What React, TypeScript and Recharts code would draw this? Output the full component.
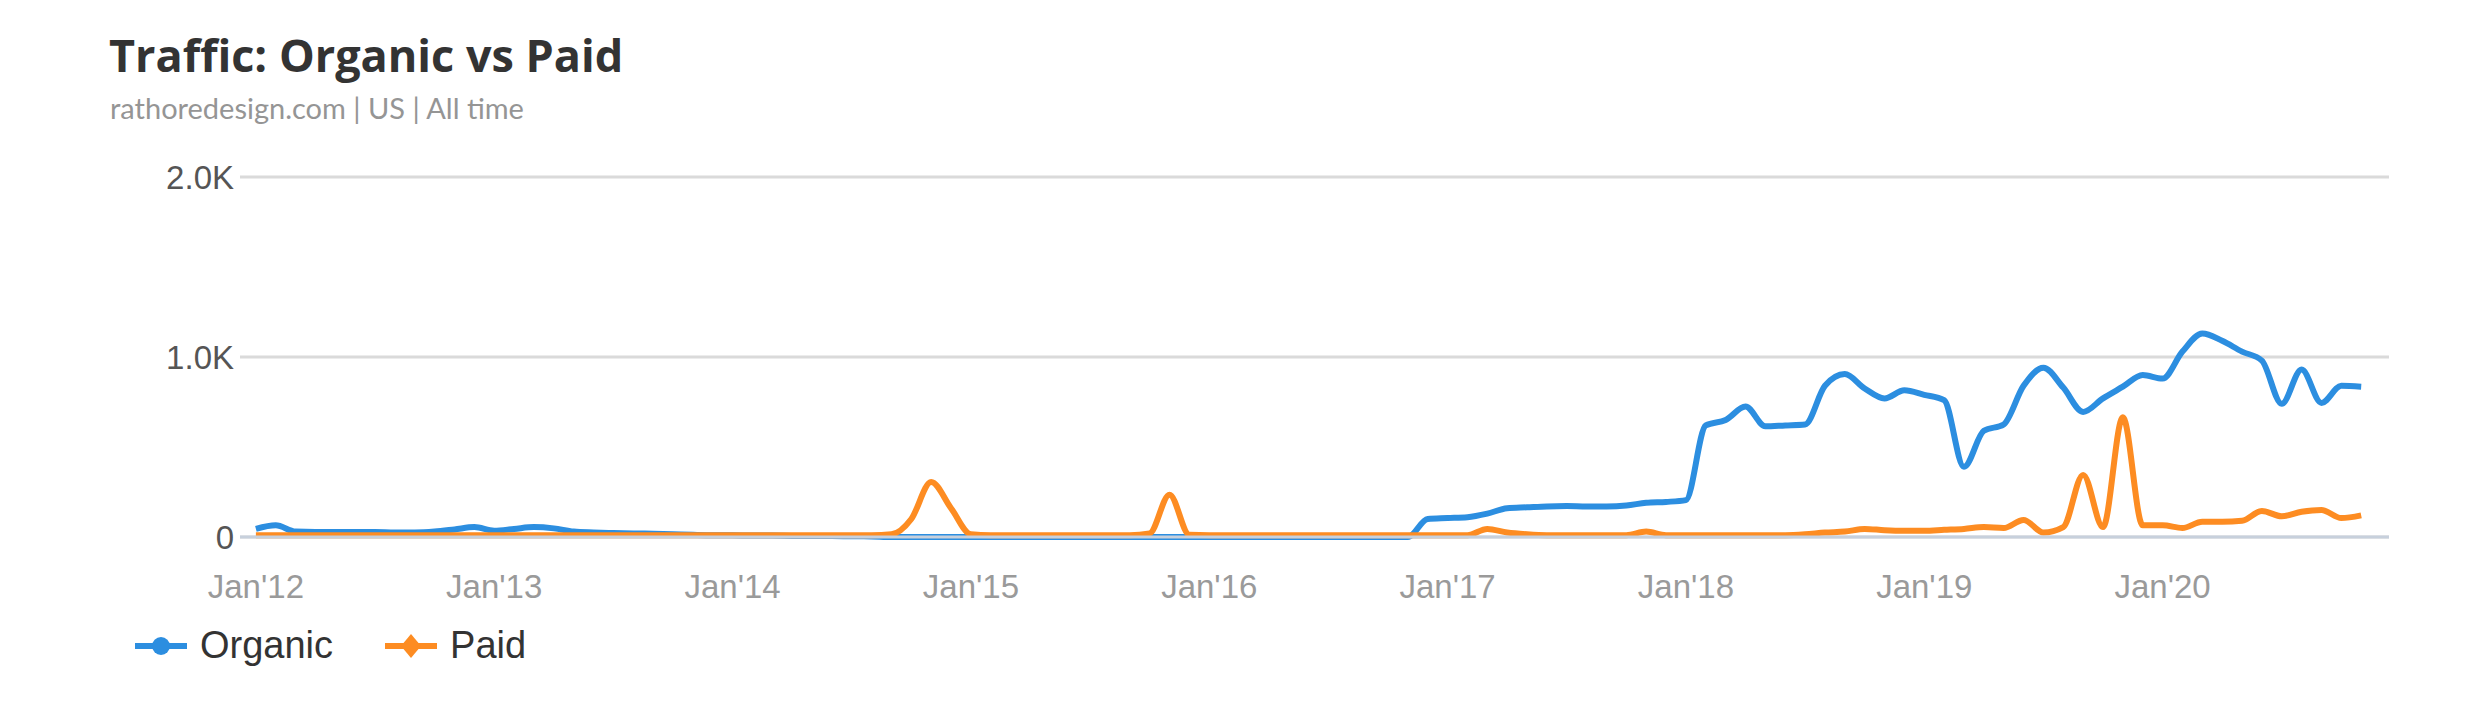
import { LineChart, Line, XAxis, YAxis, CartesianGrid } from 'recharts';

// monthly points, Jan 2012 .. Nov 2020
const organic = [
  45, 65, 30, 28, 28, 28, 28, 25, 25, 30,
  42, 55, 35, 45, 55, 48, 30, 25, 22, 20,
  18, 15, 12, 10, 10, 8, 8, 6, 5, 5,
  4, 3, 0, 0, 0, 0, 0, 0, 0, 0,
  0, 0, 0, 0, 0, 0, 0, 0, 0, 0,
  0, 0, 0, 0, 0, 0, 0, 0, 0, 100,
  105, 110, 130, 160, 165, 170, 172, 170, 170, 175,
  190, 195, 205, 620, 650, 725, 615, 620, 625, 840,
  905, 825, 770, 815, 790, 760, 390, 590, 625, 840,
  940, 830, 695, 770, 835, 900, 880, 1030, 1130, 1090,
  1030, 980, 740, 930, 745, 840, 835,
];

const paid = [
  10, 10, 10, 10, 10, 10, 10, 10, 10, 10,
  10, 10, 10, 10, 10, 10, 10, 10, 10, 10,
  10, 10, 10, 10, 10, 10, 10, 10, 10, 10,
  10, 10, 15, 100, 305, 160, 15, 10, 10, 10,
  10, 10, 10, 10, 10, 20, 235, 12, 10, 10,
  10, 10, 10, 10, 10, 10, 10, 10, 10, 10,
  10, 10, 45, 25, 15, 10, 10, 10, 10, 10,
  30, 10, 10, 10, 10, 10, 10, 10, 15, 25,
  30, 45, 38, 35, 35, 40, 45, 55, 50, 95,
  25, 55, 345, 55, 665, 65, 65, 50, 85, 85,
  90, 145, 115, 140, 150, 105, 120,
];

const xTicks = [0, 12, 24, 36, 48, 60, 72, 84, 96];
const xTickLabels = ["Jan'12", "Jan'13", "Jan'14", "Jan'15", "Jan'16", "Jan'17", "Jan'18", "Jan'19", "Jan'20"];
const yTicks = [0, 1000, 2000];
const yTickLabels = ['0', '1.0K', '2.0K'];

const BLUE = '#2c8ee0';
const ORANGE = '#fd8c22';

const data = organic.map((v, i) => ({ idx: i, organic: v, paid: paid[i] }));

function LegendItem({ color, label, shape }: { color: string; label: string; shape: 'circle' | 'diamond' }) {
  return (
    <div style={{ display: 'flex', alignItems: 'center', marginRight: 52 }}>
      <svg width={52} height={30} style={{ marginRight: 13 }}>
        <line x1={0} y1={15} x2={52} y2={15} stroke={color} strokeWidth={6} />
        {shape === 'circle' ? (
          <circle cx={26} cy={15} r={9} fill={color} />
        ) : (
          <path d="M26 3 L36 15 L26 27 L16 15 Z" fill={color} />
        )}
      </svg>
      <span style={{ fontFamily: '"Liberation Sans", Arial, sans-serif', fontSize: 38, color: '#333' }}>{label}</span>
    </div>
  );
}

export default function App() {
  return (
    <div style={{ position: 'absolute', left: 0, top: 0, width: 2479, height: 702, background: '#fff' }}>
      <div
        style={{
          position: 'absolute',
          left: 109,
          top: 27,
          fontFamily: '"Open Sans", Lato, sans-serif',
          fontWeight: 700,
          fontSize: 45,
          lineHeight: '56px',
          color: '#333',
          whiteSpace: 'nowrap',
        }}
      >
        Traffic: Organic vs Paid
      </div>
      <div
        style={{
          position: 'absolute',
          left: 110,
          top: 90,
          fontFamily: 'Lato, "Open Sans", sans-serif',
          fontSize: 29,
          color: '#959595',
          whiteSpace: 'nowrap',
        }}
      >
        rathoredesign.com | US | All time
      </div>

      <div style={{ position: 'absolute', left: 0, top: 0 }}>
        <LineChart width={2479} height={702} data={data} margin={{ top: 177, right: 90, left: 0, bottom: 105 }}>
          <CartesianGrid vertical={false} stroke="#dadada" strokeWidth={3} />
          <XAxis
            type="number"
            dataKey="idx"
            domain={[-0.8, 107.4]}
            ticks={xTicks}
            tickFormatter={(v: number) => xTickLabels[xTicks.indexOf(v)] ?? ''}
            height={60}
            tickLine={false}
            tickSize={0}
            tickMargin={38}
            axisLine={{ stroke: '#c7d0dc', strokeWidth: 3 }}
            tick={{ fill: '#9a9a9a', fontSize: 33, fontFamily: '"Liberation Sans", Arial, sans-serif' }}
            allowDataOverflow
          />
          <YAxis
            domain={[0, 2000]}
            ticks={yTicks}
            tickFormatter={(v: number) => yTickLabels[yTicks.indexOf(v)] ?? ''}
            width={240}
            axisLine={false}
            tickLine={false}
            tickSize={0}
            tickMargin={6}
            tick={{ fill: '#555', fontSize: 33, fontFamily: '"Liberation Sans", Arial, sans-serif' }}
          />
          <Line type="monotone" dataKey="organic" stroke={BLUE} strokeWidth={6} dot={false} isAnimationActive={false} />
          <Line type="monotone" dataKey="paid" stroke={ORANGE} strokeWidth={6} dot={false} isAnimationActive={false} />
        </LineChart>
      </div>

      <div style={{ position: 'absolute', left: 135, top: 624, display: 'flex' }}>
        <LegendItem color={BLUE} label="Organic" shape="circle" />
        <LegendItem color={ORANGE} label="Paid" shape="diamond" />
      </div>
    </div>
  );
}
